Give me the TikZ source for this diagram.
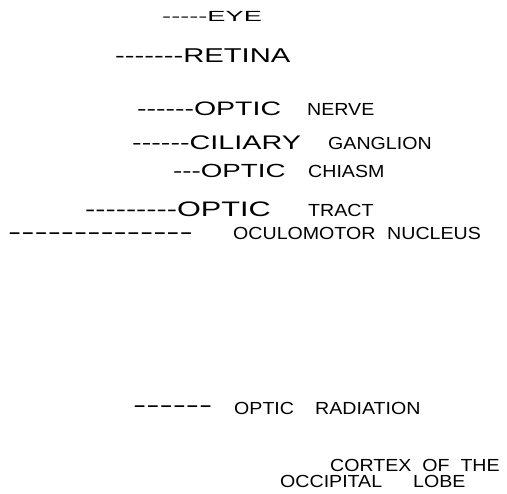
\documentclass[tikz,border=0pt]{standalone}
\usepackage{fontspec}
\setmainfont{Liberation Sans}
\newfontfamily\bigfam[FakeStretch=1.46]{Liberation Sans}
\newfontfamily\eyefam[FakeStretch=1.85]{Liberation Sans}
\newfontfamily\smallfam[FakeStretch=1.12]{Liberation Sans}
\newfontfamily\dashfam[FakeStretch=1.8]{Liberation Sans}
\usepackage{tikz}

\tikzset{
    txt/.style={anchor=base west, inner sep=0pt, black},
    bigtxt/.style={txt, font=\bigfam\fontsize{#1}{#1}\selectfont},
    smalltxt/.style={txt, font=\smallfam\fontsize{17.5}{17.5}\selectfont},
    dashtxt/.style={txt, font=\dashfam\fontsize{22}{22}\selectfont}
}

\begin{document}
\begin{tikzpicture}[x=1pt, y=-1pt]
    \useasboundingbox (0,0) rectangle (507,494);
    \node[txt, font=\eyefam\fontsize{14.7}{14.7}\selectfont] (eye) at (162,22) {-----EYE};
    \node[bigtxt=20] (retina) at (115,63) {-------RETINA};
    \node[bigtxt=19.5] (opticn) at (137,116) {------OPTIC};
    \node[smalltxt] (nerve) at (307,116) {NERVE};
    \node[bigtxt=19.7] (ciliary) at (132,150) {------CILIARY};
    \node[smalltxt] (ganglion) at (328,150) {GANGLION};
    \node[bigtxt=19] (opticc) at (173,178) {---OPTIC};
    \node[smalltxt] (chiasm) at (308,178) {CHIASM};
    \node[bigtxt=21] (optict) at (85,217) {---------OPTIC};
    \node[smalltxt] (tract) at (308,217) {TRACT};
    \node[dashtxt] (oculodash) at (8,240) {--------------};
    \node[smalltxt] (oculomotor) at (233,240) {OCULOMOTOR};
    \node[smalltxt] (nucleus) at (387,240) {NUCLEUS};
    \node[dashtxt] (radash) at (133,413) {------};
    \node[smalltxt] (opticr) at (234,415) {OPTIC};
    \node[smalltxt] (radiation) at (315,415) {RADIATION};
    \node[smalltxt] (cortex) at (330,472) {CORTEX~~OF~~THE};
    \node[smalltxt] (occipital) at (280,488) {OCCIPITAL};
    \node[smalltxt] (lobe) at (413,488) {LOBE};
\end{tikzpicture}
\end{document}
